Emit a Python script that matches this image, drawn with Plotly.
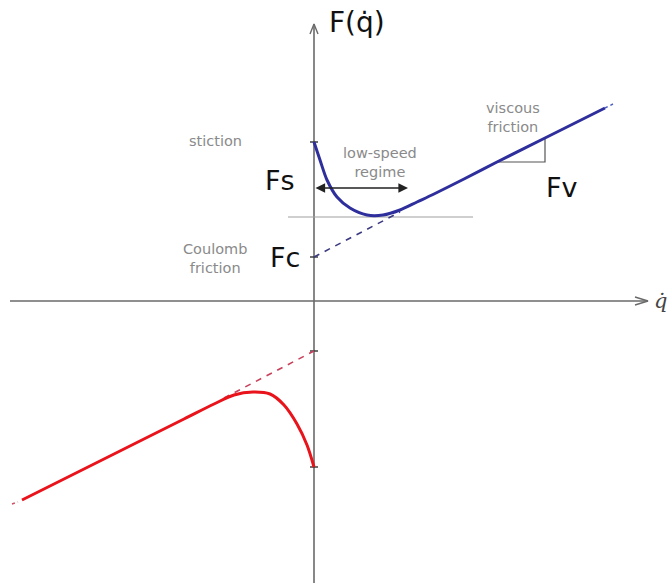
import plotly.graph_objects as go

# Friction model: Stribeck curve with Coulomb, static and viscous friction
# Coordinates are in plot units with the origin at the axes crossing.

# Levels on the force axis
FS_POS = 159      # static friction (stiction), positive velocity
FC_POS = 44       # Coulomb friction, positive velocity
FS_NEG = -166     # static friction, negative velocity
FC_NEG = -50      # Coulomb friction, negative velocity

# Positive-velocity branch (blue)
blue_v = [0, 6, 13, 23, 36, 53, 69, 86, 103, 120, 150, 183, 231, 291]
blue_f = [159, 141, 121, 104, 93, 86, 86, 91, 99, 107, 122, 139, 163, 193]
blue_tail_v = [291, 299]
blue_tail_f = [193, 197]

# Coulomb + viscous asymptote (dashed) for positive velocity
coul_pos_v = [0, 86]
coul_pos_f = [FC_POS, 89]

# Negative-velocity branch (red)
red_v = [-292, -200, -130, -100, -80, -61, -44, -30, -17, -7, 0]
red_f = [-199, -153, -118, -103, -94, -91, -93, -104, -123, -144, -166]
red_tail_v = [-302, -296]
red_tail_f = [-203, -201]

# Coulomb + viscous asymptote (dashed) for negative velocity
coul_neg_v = [-90, 0]
coul_neg_f = [-97, FC_NEG]

# Horizontal reference through the Stribeck minimum
min_ref_v = [-26, 159]
min_ref_f = [84, 84]

# Low-speed regime span
low_speed_v = [0, 94]
low_speed_f = 113

# Viscous slope triangle
slope_v = [183, 231, 231]
slope_f = [139, 139, 163]

X_RANGE = [-314, 354]
Y_RANGE = [-282, 301]
V_AXIS_TOP = 277
H_AXIS_RIGHT = 334
H_AXIS_LEFT = -304

AXIS_COLOR = "#6a6a6a"
BLUE = "#2e2f9c"
RED = "#e8131b"
NOTE_COLOR = "#8a8a8a"
NOTE_FONT = dict(family="DejaVu Sans, Lato", size=14.5, color=NOTE_COLOR)
BIG_FONT = dict(family="DejaVu Sans, Open Sans", size=27, color="#111111")

fig = go.Figure()


def line(x, y, color, width, dash="solid", shape="linear", smoothing=0.8):
    fig.add_trace(go.Scatter(
        x=x, y=y, mode="lines", hoverinfo="skip", showlegend=False,
        line=dict(color=color, width=width, dash=dash, shape=shape,
                  smoothing=smoothing if shape == "spline" else None),
    ))


# Axes with open arrow tips
line([0, 0], [Y_RANGE[0], V_AXIS_TOP], AXIS_COLOR, 1.6)
line([-4, 0, 4], [V_AXIS_TOP - 10, V_AXIS_TOP, V_AXIS_TOP - 10], AXIS_COLOR, 1.4)
line([H_AXIS_LEFT, H_AXIS_RIGHT], [0, 0], AXIS_COLOR, 1.6)
line([H_AXIS_RIGHT - 13, H_AXIS_RIGHT, H_AXIS_RIGHT - 13], [4, 0, -4], AXIS_COLOR, 1.4)

# Tick marks at the friction levels
for level in (FS_POS, FC_POS, FC_NEG, FS_NEG):
    line([-4, 4], [level, level], "#333333", 1.4)

# Reference line and slope triangle
line(min_ref_v, min_ref_f, "#a0a0a0", 1.1)
line(slope_v, slope_f, "#555555", 1.2)

# Asymptotes
line(coul_pos_v, coul_pos_f, "#3a3a80", 1.6, dash="6px,6px")
line(coul_neg_v, coul_neg_f, "#c8405a", 1.6, dash="6px,6px")

# Friction curves
line(blue_v, blue_f, BLUE, 3, shape="spline")
line(blue_tail_v, blue_tail_f, "#5060c0", 1.5, dash="dot")
line(red_v, red_f, RED, 3, shape="spline", smoothing=0.9)
line(red_tail_v, red_tail_f, "#d05060", 1.5, dash="dot")

annotations = [
    # Low-speed regime double arrow
    dict(x=low_speed_v[1], y=low_speed_f, ax=low_speed_v[0], ay=low_speed_f,
         xref="x", yref="y", axref="x", ayref="y", text="", showarrow=True,
         arrowhead=2, arrowside="end+start", arrowsize=1.2, arrowwidth=1.6,
         arrowcolor="#222222", standoff=0, startstandoff=0),
    dict(x=43, y=279, text="F(q̇)", font=dict(family="DejaVu Sans, Open Sans", size=28, color="#111111")),
    dict(x=346, y=0, text="<i>q̇</i>", font=dict(family="DejaVu Serif, Liberation Serif", size=21, color="#444444")),
    dict(x=-34, y=121, text="Fs", font=BIG_FONT),
    dict(x=-29, y=44, text="Fc", font=BIG_FONT),
    dict(x=248, y=114, text="Fv", font=BIG_FONT),
    dict(x=-99, y=160, text="stiction", font=NOTE_FONT),
    dict(x=66, y=139, text="low-speed<br>regime", font=NOTE_FONT),
    dict(x=-99, y=43, text="Coulomb<br>friction", font=NOTE_FONT),
    dict(x=199, y=184, text="viscous<br>friction", font=NOTE_FONT),
]
for a in annotations:
    a.setdefault("xref", "x")
    a.setdefault("yref", "y")
    a.setdefault("showarrow", False)
fig.update_layout(annotations=annotations)

fig.update_layout(
    width=668, height=583,
    margin=dict(l=0, r=0, t=0, b=0),
    paper_bgcolor="white", plot_bgcolor="white",
    xaxis=dict(range=X_RANGE, visible=False, fixedrange=True),
    yaxis=dict(range=Y_RANGE, visible=False, fixedrange=True),
    showlegend=False,
)

fig.write_html("out.html", config={"displayModeBar": False})
